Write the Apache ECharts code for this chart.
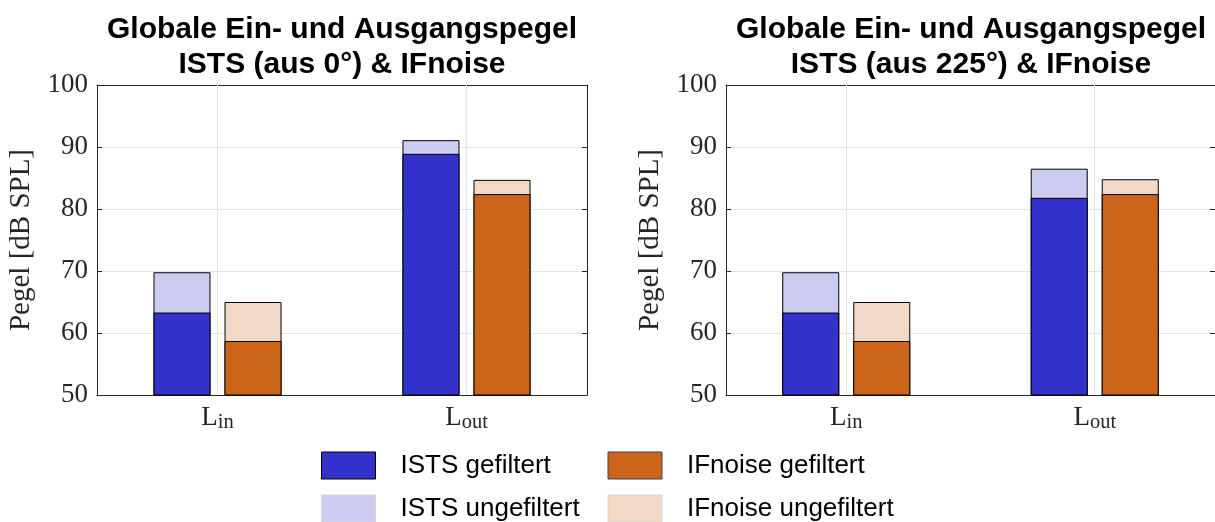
<!DOCTYPE html>
<html>
<head>
<meta charset="utf-8">
<script src="https://cdn.jsdelivr.net/npm/echarts@6/dist/echarts.min.js"></script>
<style>
  html, body { margin: 0; padding: 0; background: #fff; }
  #chart { width: 1215px; height: 522px; }
</style>
</head>
<body>
<div id="chart"></div>
<script>
// Category positions on the x scale and their labels (L with subscript)
const catPos = [1, 2];
const catMain = ['L', 'L'];
const catSub = ['in', 'out'];

// Levels in dB SPL, ISTS from 0°
const istsFilt0 = [63.3, 88.9];
const istsUnfilt0 = [69.8, 91.1];
const ifnFilt0 = [58.7, 82.4];
const ifnUnfilt0 = [65.0, 84.7];

// Levels in dB SPL, ISTS from 225°
const istsFilt225 = [63.3, 81.8];
const istsUnfilt225 = [69.8, 86.5];
const ifnFilt225 = [58.7, 82.4];
const ifnUnfilt225 = [65.0, 84.8];

const yMin = 50, yMax = 100, yStep = 10;
const xMin = 0.516, xMax = 2.484;

const titles = [
  'Globale Ein- und Ausgangspegel\nISTS (aus 0°) & IFnoise',
  'Globale Ein- und Ausgangspegel\nISTS (aus 225°) & IFnoise'
];
const yName = 'Pegel [dB SPL]';

const C = {
  istsFilt: '#3333cc',
  istsUnfilt: '#ccccf0',
  ifnFilt: '#cb651a',
  ifnUnfilt: '#f2d9c6',
  axis: '#262626',
  grid: '#e3e3e3'
};

const serif = 'Liberation Serif';
const sans = 'Liberation Sans';

const grids = [
  { left: 97, top: 85, width: 490, height: 310 },
  { left: 726, top: 85, width: 490, height: 310 }
];

const xAxes = [], yAxes = [], series = [];
const sets = [
  [istsFilt0, istsUnfilt0, ifnFilt0, ifnUnfilt0],
  [istsFilt225, istsUnfilt225, ifnFilt225, ifnUnfilt225]
];

const pairs = (vals) => catPos.map((p, i) => [p, vals[i]]);
const catLabel = (v) => {
  const i = catPos.indexOf(Math.round(v));
  return i < 0 ? '' : '{b|' + catMain[i] + '}{s|' + catSub[i] + '}';
};

grids.forEach((g, gi) => {
  // bottom axis carries the unfiltered bars, top axis the filtered bars drawn over them
  xAxes.push({
    type: 'value', gridIndex: gi, min: xMin, max: xMax, position: 'bottom',
    axisLine: { show: true, onZero: false, lineStyle: { color: C.axis, width: 1 } },
    axisTick: { show: true, inside: true, length: 5, customValues: catPos, lineStyle: { color: C.axis } },
    axisLabel: {
      show: true, customValues: catPos, margin: 8, formatter: catLabel,
      rich: {
        b: { fontFamily: serif, fontSize: 27, color: C.axis, lineHeight: 30, verticalAlign: 'middle' },
        s: { fontFamily: serif, fontSize: 20.5, color: C.axis, lineHeight: 19, verticalAlign: 'bottom' }
      }
    },
    splitLine: { show: false }
  });
  xAxes.push({
    type: 'value', gridIndex: gi, min: xMin, max: xMax, position: 'top',
    axisLine: { show: true, onZero: false, lineStyle: { color: C.axis, width: 1 } },
    axisTick: { show: true, inside: true, length: 5, customValues: catPos, lineStyle: { color: C.axis } },
    axisLabel: { show: false }, splitLine: { show: false }
  });
  yAxes.push({
    type: 'value', gridIndex: gi, min: yMin, max: yMax, interval: yStep, position: 'left',
    name: yName, nameLocation: 'middle', nameRotate: 90, nameGap: 61,
    nameTextStyle: { fontFamily: serif, fontSize: 29, color: C.axis },
    axisLine: { show: true, onZero: false, lineStyle: { color: C.axis, width: 1 } },
    axisTick: { show: true, inside: true, length: 5, lineStyle: { color: C.axis } },
    axisLabel: { fontFamily: serif, fontSize: 27, color: C.axis, margin: 9 },
    splitLine: { show: true, lineStyle: { color: C.grid, width: 1 } }
  });
  yAxes.push({
    type: 'value', gridIndex: gi, min: yMin, max: yMax, interval: yStep, position: 'right',
    axisLine: { show: true, onZero: false, lineStyle: { color: C.axis, width: 1 } },
    axisTick: { show: true, inside: true, length: 5, lineStyle: { color: C.axis } },
    axisLabel: { show: false }, splitLine: { show: false }
  });

  // vertical grid lines at the group centres
  series.push({
    type: 'line', name: 'cat' + gi, xAxisIndex: gi * 2, yAxisIndex: gi * 2,
    data: [], silent: true, z: 1, animation: false,
    markLine: {
      silent: true, symbol: 'none', animation: false, z: 1,
      lineStyle: { color: C.grid, type: 'solid', width: 1 },
      label: { show: false },
      emphasis: { disabled: true },
      data: catPos.map((p) => ({ xAxis: p }))
    }
  });

  const [fI, uI, fN, uN] = sets[gi];
  const common = {
    type: 'bar', yAxisIndex: gi * 2, barWidth: 57, barGap: '24.6%',
    animation: false, clip: true, z: 2
  };
  series.push({
    ...common, name: 'ISTS ungefiltert', xAxisIndex: gi * 2, data: pairs(uI),
    itemStyle: { color: C.istsUnfilt, borderColor: '#000', borderWidth: 1 }
  });
  series.push({
    ...common, name: 'IFnoise ungefiltert', xAxisIndex: gi * 2, data: pairs(uN),
    itemStyle: { color: C.ifnUnfilt, borderColor: '#000', borderWidth: 1 }
  });
  series.push({
    ...common, name: 'ISTS gefiltert', xAxisIndex: gi * 2 + 1, data: pairs(fI),
    itemStyle: { color: C.istsFilt, borderColor: '#000', borderWidth: 1 }
  });
  series.push({
    ...common, name: 'IFnoise gefiltert', xAxisIndex: gi * 2 + 1, data: pairs(fN),
    itemStyle: { color: C.ifnFilt, borderColor: '#000', borderWidth: 1 }
  });
});

// one legend entry per slot: two columns, two rows
const legendItems = [
  { name: 'ISTS gefiltert', left: 321, top: 451.5, border: '#000' },
  { name: 'ISTS ungefiltert', left: 321, top: 494.5, border: '#d8d8d8' },
  { name: 'IFnoise gefiltert', left: 607.5, top: 451.5, border: '#444' },
  { name: 'IFnoise ungefiltert', left: 607.5, top: 494.5, border: '#d8d8d8' }
];

const option = {
  backgroundColor: '#fff',
  animation: false,
  title: titles.map((t, i) => ({
    text: t, left: grids[i].left + 240, top: 7, textAlign: 'center',
    textStyle: { fontFamily: sans, fontSize: 30, fontWeight: 'bold', color: '#000', lineHeight: 35 }
  })),
  legend: legendItems.map((it) => ({
    left: it.left, top: it.top, padding: 0, orient: 'horizontal',
    itemWidth: 54, itemHeight: 27, icon: 'rect', selectedMode: false,
    textStyle: { fontFamily: sans, fontSize: 26, color: '#000', lineHeight: 27, padding: [0, 0, 0, 20] },
    data: [{ name: it.name, itemStyle: { borderColor: it.border, borderWidth: 1 } }]
  })),
  grid: grids.map((g) => ({ ...g, containLabel: false })),
  xAxis: xAxes,
  yAxis: yAxes,
  series: series
};

const chart = echarts.init(document.getElementById('chart'), null, { renderer: 'canvas' });
chart.setOption(option);
</script>
</body>
</html>
